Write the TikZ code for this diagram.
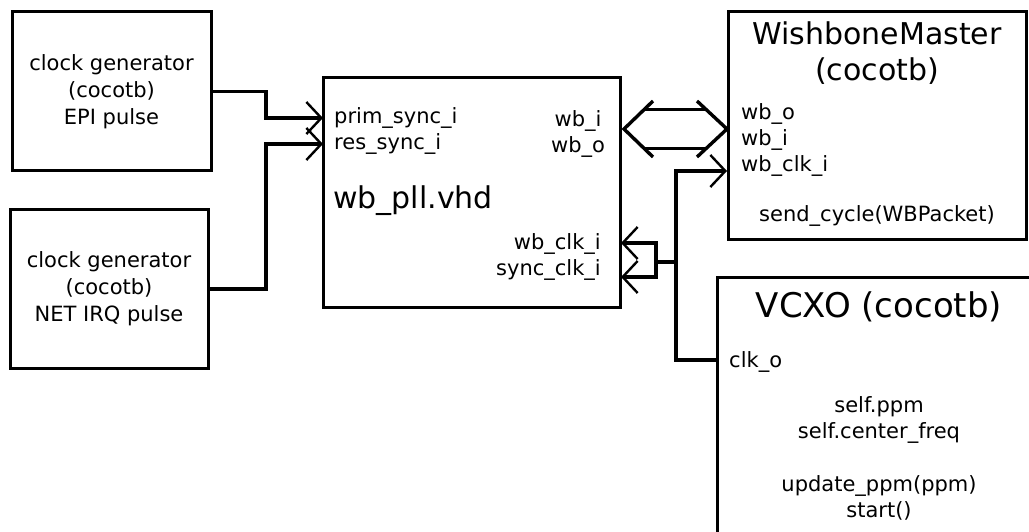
\documentclass[tikz,border=0pt]{standalone}
\usepackage{fontspec}
\setmainfont{DejaVu Sans}
\usetikzlibrary{arrows.meta,calc}
\begin{document}
\begin{tikzpicture}[x=1pt,y=-1pt,
  box/.style={draw, line width=3pt, inner sep=0pt, align=center, font=\fontsize{21}{27}\selectfont},
  lbl/.style={inner sep=0pt, font=\fontsize{21}{26}\selectfont},
  big/.style={inner sep=0pt, font=\fontsize{30}{36}\selectfont},
  huge/.style={inner sep=0pt, font=\fontsize{34}{40}\selectfont},
  conn/.style={line width=3.4pt},
  arr/.style={-{Straight Barb[length=15pt,width=32pt,line width=2.4pt]}}]
\useasboundingbox (0,0) rectangle (1029,532);
\fill[white] (0,0) rectangle (1029,532);
\clip (0,0) rectangle (1029,532);

% boxes
\node[box, minimum width=199pt, minimum height=159pt] (cg1) at (111.5,91.5) {clock generator\\(cocotb)\\EPI pulse};
\node[box, minimum width=198pt, minimum height=158pt] (cg2) at (109,289) {clock generator\\(cocotb)\\NET IRQ pulse};
\node[box, minimum width=297pt, minimum height=229pt] (pll) at (471.5,192.5) {};
\node[box, minimum width=298pt, minimum height=227pt] (wbm) at (877,125.5) {};
\node[box, minimum width=324pt, minimum height=300pt] (vcxo) at (879,427) {};

% wb_pll texts
\node[lbl, anchor=base west] (tprim) at (334,124) {prim\_sync\_i};
\node[lbl, anchor=base west] (tres) at (334,150) {res\_sync\_i};
\node[big, anchor=base west] (tname) at (333,208) {wb\_pll.vhd};
\node[lbl, anchor=base] (twbi) at (578,127) {wb\_i};
\node[lbl, anchor=base] (twbo) at (578,153) {wb\_o};
\node[lbl, anchor=base east] (twbclk) at (601,250) {wb\_clk\_i};
\node[lbl, anchor=base east] (tsync) at (601,276) {sync\_clk\_i};

% WishboneMaster texts
\node[big, anchor=base] (tmaster) at (877,45) {WishboneMaster};
\node[big, anchor=base] (tmaster2) at (877,81) {(cocotb)};
\node[lbl, anchor=base west] (tmo) at (741,120) {wb\_o};
\node[lbl, anchor=base west] (tmi) at (741,146) {wb\_i};
\node[lbl, anchor=base west] (tmclk) at (741,172) {wb\_clk\_i};
\node[lbl, anchor=base] (tsend) at (877,222) {send\_cycle(WBPacket)};

% VCXO texts
\node[huge, anchor=base] (tvcxo) at (879,317) {VCXO (cocotb)};
\node[lbl, anchor=base west] (tclko) at (729,367) {clk\_o};
\node[lbl, anchor=base] (tppm) at (879,412) {self.ppm};
\node[lbl, anchor=base] (tcf) at (879,438) {self.center\_freq};
\node[lbl, anchor=base] (tupd) at (879,491) {update\_ppm(ppm)};
\node[lbl, anchor=base] (tstart) at (879,517) {start()};

% ports and junctions
\coordinate (pPrim) at (323,118);
\coordinate (pRes) at (323,144);
\coordinate (jL) at (266,0);
\coordinate (pWbClkM) at (727,171);
\coordinate (tree) at (676,0);
\coordinate (clko) at (717,360);
\coordinate (br) at (656,262);
\coordinate (pWbClk) at (621,243);
\coordinate (pSync) at (621,277);
\coordinate (busL) at (624,129);
\coordinate (busR) at (727,129);

% clock generator connectors
\draw[conn, arr] (cg1.east) -| (jL |- pPrim) -- (pPrim);
\draw[conn, arr] (cg2.east) -| (jL |- pRes) -- (pRes);

% clock tree
\draw[conn, arr] (clko) -- (tree |- clko) -- (tree |- pWbClkM) -- (pWbClkM);
\draw[conn] (tree |- br) -- (br);
\draw[conn, arr] (br) -- (br |- pWbClk) -- (pWbClk);
\draw[conn, arr] (br) -- (br |- pSync) -- (pSync);

% wishbone bus double arrow
\draw[conn] ($(busL)+(29,-28)$) -- (busL) -- ($(busL)+(29,28)$);
\draw[conn] ($(busR)+(-30,-28)$) -- (busR) -- ($(busR)+(-30,28)$);
\draw[conn] ($(busL)+(20,-19.5)$) -- ($(busR)+(-20,-19.5)$);
\draw[conn] ($(busL)+(20,19.5)$) -- ($(busR)+(-20,19.5)$);
\end{tikzpicture}
\end{document}
